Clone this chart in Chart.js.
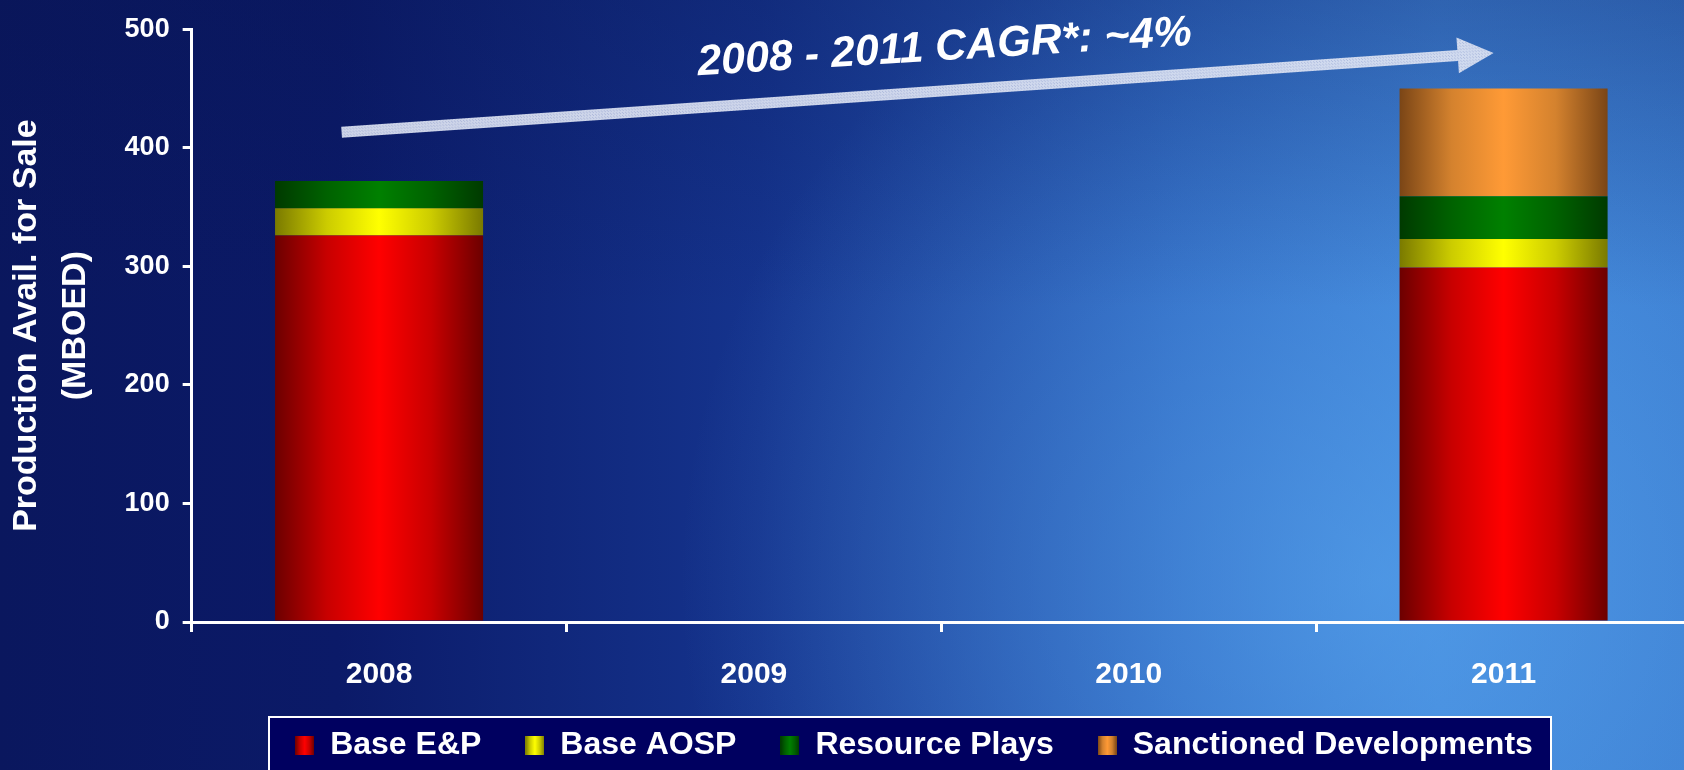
<!DOCTYPE html>
<html>
<head>
<meta charset="utf-8">
<script src="https://cdn.jsdelivr.net/npm/chart.js@4.4.1/dist/chart.umd.min.js"></script>
<style>
  html, body { margin: 0; padding: 0; background: #0a175e; overflow: hidden; }
  #chart { display: block; }
</style>
</head>
<body>
<canvas id="chart" width="1691" height="770"></canvas>
<script>
// Production available for sale, thousand barrels of oil equivalent per day
const categories = ['2008', '2009', '2010', '2011'];
const baseEP = [326, null, null, 299];
const baseAOSP = [23, null, null, 24];
const resourcePlays = [23, null, null, 36];
const sanctionedDevelopments = [null, null, null, 91];
const seriesNames = ['Base E&P', 'Base AOSP', 'Resource Plays', 'Sanctioned Developments'];
const yTicks = [0, 100, 200, 300, 400, 500];
const yTitle = ['Production Avail. for Sale', '(MBOED)'];
const cagrLabel = '2008 - 2011 CAGR*: ~4%';

const FONT = '"Liberation Sans", Arial, Helvetica, sans-serif';
const BAR_PCT = 0.555;

// edge / shoulder / centre shades for the cylinder-like bar shading
const shades = {
  red:    ['#6c0000', '#c80000', '#ff0000'],
  yellow: ['#7a7a00', '#cccc00', '#ffff00'],
  green:  ['#003a00', '#006200', '#008000'],
  orange: ['#7a4516', '#d4822e', '#ff9a36']
};

function paintStops(g, s) {
  g.addColorStop(0, s[0]);
  g.addColorStop(0.25, s[1]);
  g.addColorStop(0.5, s[2]);
  g.addColorStop(0.75, s[1]);
  g.addColorStop(1, s[0]);
}

// horizontal gradient across the width of each bar
function barFill(s) {
  return (c) => {
    const xs = c.chart.scales.x;
    if (!xs || c.dataIndex === undefined) return s[2];
    const cx = xs.getPixelForValue(c.dataIndex);
    const half = xs.width / categories.length * BAR_PCT / 2;
    const g = c.chart.ctx.createLinearGradient(cx - half, 0, cx + half, 0);
    paintStops(g, s);
    return g;
  };
}

function legendMarker(s) {
  const cv = document.createElement('canvas');
  cv.width = 19; cv.height = 19;
  const x = cv.getContext('2d');
  const g = x.createLinearGradient(0, 0, 19, 0);
  paintStops(g, s);
  x.fillStyle = g;
  x.fillRect(0, 0, 19, 19);
  return cv;
}

const seriesShades = [shades.red, shades.yellow, shades.green, shades.orange];
const markers = seriesShades.map(legendMarker);

// light checkered texture for the growth arrow
function arrowPattern(ctx) {
  const cv = document.createElement('canvas');
  cv.width = 3; cv.height = 3;
  const p = cv.getContext('2d');
  p.fillStyle = '#dfe5f4';
  p.fillRect(0, 0, 3, 3);
  p.fillStyle = '#b9c3e2';
  p.fillRect(0, 0, 1, 1);
  p.fillRect(2, 2, 1, 1);
  return ctx.createPattern(cv, 'repeat');
}

// legend frame, in canvas pixels
const FRAME = { left: 269, right: 1551, top: 717 };
const LEGEND_CENTER = 914;

const backdrop = {
  id: 'backdrop',
  beforeDraw(chart) {
    const { ctx, width: W, height: H } = chart;
    ctx.save();
    const g = ctx.createLinearGradient(0, 0, W, 0);
    g.addColorStop(0, '#0a175e');
    g.addColorStop(0.2, '#0b1a68');
    g.addColorStop(0.45, '#15348e');
    g.addColorStop(0.7, '#2c64bf');
    g.addColorStop(0.85, '#3b7dd3');
    g.addColorStop(1, '#3878cd');
    ctx.fillStyle = g;
    ctx.fillRect(0, 0, W, H);
    const r = ctx.createRadialGradient(1380, 580, 0, 1380, 580, 700);
    r.addColorStop(0, 'rgba(95,175,245,0.55)');
    r.addColorStop(1, 'rgba(95,175,245,0)');
    ctx.fillStyle = r;
    ctx.fillRect(0, 0, W, H);
    const t = ctx.createLinearGradient(0, 0, 0, H);
    t.addColorStop(0, 'rgba(8,20,80,0.28)');
    t.addColorStop(0.4, 'rgba(8,20,80,0)');
    ctx.fillStyle = t;
    ctx.fillRect(0, 0, W, H);

    // legend frame
    ctx.fillStyle = '#000060';
    ctx.fillRect(FRAME.left, FRAME.top, FRAME.right - FRAME.left, H - FRAME.top + 4);
    ctx.strokeStyle = '#ffffff';
    ctx.lineWidth = 2;
    ctx.strokeRect(FRAME.left, FRAME.top, FRAME.right - FRAME.left, H - FRAME.top + 10);
    ctx.restore();

    // place the legend row inside the frame
    const lg = chart.legend;
    if (lg) {
      lg.left = LEGEND_CENTER - 760;
      lg.right = LEGEND_CENTER + 760;
      lg.top = 685.5;
      lg.bottom = H;
    }
  }
};

const growthArrow = {
  id: 'growthArrow',
  afterDraw(chart) {
    const { ctx } = chart;
    const xs = chart.scales.x, ys = chart.scales.y;
    const catW = xs.width / categories.length;
    const x0 = xs.getPixelForValue(0) - 0.1 * catW, y0 = ys.getPixelForValue(413);
    const x1 = xs.getPixelForValue(3) - 10, y1 = ys.getPixelForValue(480);
    const ang = Math.atan2(y1 - y0, x1 - x0);
    const len = Math.hypot(x1 - x0, y1 - y0);
    const headL = 36, headW = 18, shaftW = 5.5;
    ctx.save();
    ctx.translate(x0, y0);
    ctx.rotate(ang);
    ctx.beginPath();
    ctx.moveTo(0, -shaftW);
    ctx.lineTo(len - headL, -shaftW);
    ctx.lineTo(len - headL, -headW);
    ctx.lineTo(len, 0);
    ctx.lineTo(len - headL, headW);
    ctx.lineTo(len - headL, shaftW);
    ctx.lineTo(0, shaftW);
    ctx.closePath();
    ctx.fillStyle = arrowPattern(ctx);
    ctx.globalAlpha = 0.92;
    ctx.fill();
    ctx.restore();

    // growth label above the arrow
    ctx.save();
    const tx = (xs.getPixelForValue(1) + xs.getPixelForValue(2)) / 2 + 4;
    const ty = ys.getPixelForValue(474);
    ctx.translate(tx, ty);
    ctx.rotate(-3.5 * Math.PI / 180);
    ctx.font = 'italic bold 43px ' + FONT;
    ctx.fillStyle = '#ffffff';
    ctx.textAlign = 'center';
    ctx.textBaseline = 'alphabetic';
    ctx.fillText(cagrLabel, 0, 0);
    ctx.restore();
  }
};

const seriesValues = [baseEP, baseAOSP, resourcePlays, sanctionedDevelopments];

new Chart(document.getElementById('chart'), {
  type: 'bar',
  data: {
    labels: categories,
    datasets: seriesValues.map((vals, i) => ({
      label: seriesNames[i],
      data: vals,
      backgroundColor: barFill(seriesShades[i]),
      borderWidth: 0,
      barPercentage: BAR_PCT,
      categoryPercentage: 1.0,
      stack: 'total'
    }))
  },
  options: {
    responsive: false,
    animation: false,
    devicePixelRatio: 1,
    layout: { padding: { top: 29, right: 0, bottom: 0, left: 0 } },
    plugins: {
      tooltip: { enabled: false },
      legend: {
        position: 'bottom',
        maxHeight: 52,
        labels: {
          color: '#ffffff',
          font: { family: FONT, size: 32, weight: 'bold' },
          usePointStyle: true,
          boxWidth: 19,
          boxHeight: 19,
          pointStyleWidth: 19,
          padding: 44,
          generateLabels: (chart) => chart.data.datasets.map((ds, i) => ({
            text: ds.label,
            fillStyle: seriesShades[i][2],
            strokeStyle: 'rgba(0,0,0,0)',
            lineWidth: 0,
            pointStyle: markers[i],
            hidden: false,
            datasetIndex: i,
            fontColor: '#ffffff'
          }))
        }
      }
    },
    scales: {
      x: {
        stacked: true,
        offset: true,
        grid: {
          display: true, drawOnChartArea: false, drawTicks: true,
          tickLength: 10, color: '#ffffff', lineWidth: 3, offset: true
        },
        border: { display: true, color: '#ffffff', width: 3 },
        ticks: {
          color: '#ffffff',
          font: { family: FONT, size: 30, weight: 'bold' },
          padding: 25, maxRotation: 0, autoSkip: false
        }
      },
      y: {
        stacked: true,
        min: 0,
        max: 500,
        afterBuildTicks: (scale) => { scale.ticks = yTicks.map(v => ({ value: v })); },
        grid: {
          display: true, drawOnChartArea: false, drawTicks: true,
          tickLength: 9, color: '#ffffff', lineWidth: 3
        },
        border: { display: true, color: '#ffffff', width: 3 },
        ticks: {
          color: '#ffffff',
          font: { family: FONT, size: 27, weight: 'bold' },
          padding: 13
        },
        title: {
          display: true,
          text: yTitle,
          color: '#ffffff',
          font: { family: FONT, size: 34, weight: 'bold', lineHeight: 1.45 },
          padding: { top: 2, bottom: 11 }
        }
      }
    }
  },
  plugins: [backdrop, growthArrow]
});
</script>
</body>
</html>
